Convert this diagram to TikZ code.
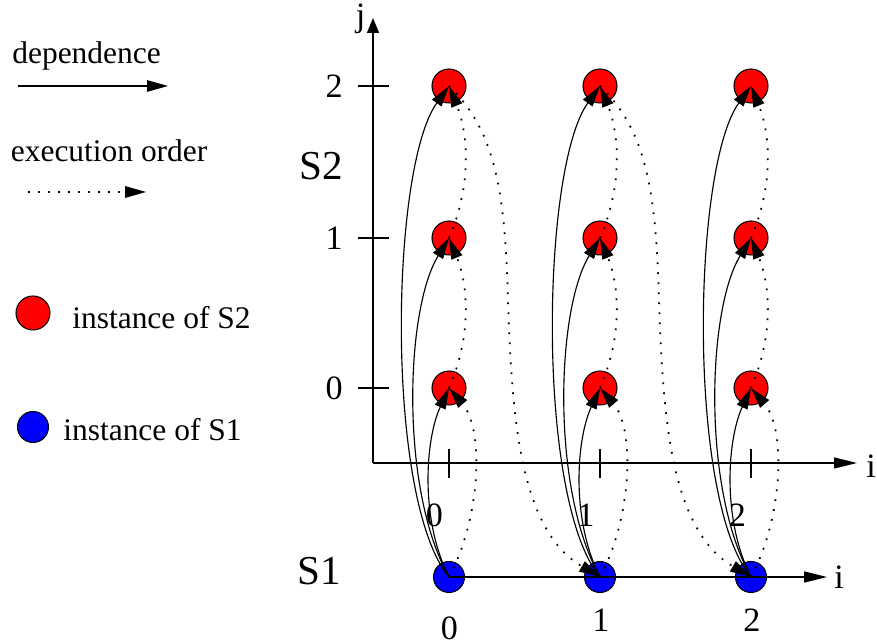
\documentclass[tikz,border=0pt]{standalone}
\usepackage{fontspec}
\setmainfont{Liberation Serif}
\usetikzlibrary{arrows.meta, calc}
\definecolor{stwoc}{HTML}{FF0000}
\definecolor{sonec}{HTML}{0000FF}
\tikzset{
  stwo/.style={circle, draw=black, fill=stwoc, line width=0.6pt, minimum size=0.68cm, inner sep=0pt},
  sone/.style={circle, draw=black, fill=sonec, line width=0.6pt, minimum size=0.62cm, inner sep=0pt},
  axisline/.style={line width=0.75pt},
  tickmark/.style={line width=0.6pt},
  txt/.style={font=\fontsize{17.9}{20}\selectfont, inner sep=0pt},
  numlbl/.style={font=\fontsize{19.4}{22}\selectfont, inner sep=0pt},
  stm/.style={font=\fontsize{23.4}{26}\selectfont, inner sep=0pt},
  dep/.style={-{Triangle[length=4.2mm, width=2.3mm]}, line width=0.65pt},
  ord/.style={-{Triangle[length=4.2mm, width=2.3mm]}, line width=1pt, dash pattern=on 1pt off 4.7pt},
  ihead/.style={-{Triangle[length=4.6mm, width=2.2mm]}},
  jhead/.style={-{Triangle[length=3mm, width=2.4mm]}},
}

\begin{document}
\begin{tikzpicture}[x=1cm, y=1cm]
\useasboundingbox (0,0) rectangle (17.54,12.88);

% legend
\node[txt, anchor=base west] (deplbl) at (0.24,11.61) {dependence};
\coordinate (dep0) at (0.36,11.16);
\coordinate (dep1) at (3.36,11.16);
\draw[dep] (dep0) -- (dep1);
\node[txt, anchor=base west] (ordlbl) at (0.21,9.65) {execution order};
\coordinate (ord0) at (0.56,9.04);
\coordinate (ord1) at (2.92,9.04);
\draw[ord] (ord0) -- (ord1);
\node[stwo] (keytwo) at (0.66,6.62) {};
\node[txt, anchor=base west] (keytwolbl) at (1.44,6.31) {instance of S2};
\node[sone] (keyone) at (0.66,4.34) {};
\node[txt, anchor=base west] (keyonelbl) at (1.26,4.06) {instance of S1};

% the (i,j) space of S2
\coordinate (org) at (7.46,3.62);
\coordinate (jend) at (7.46,12.52);
\coordinate (iend) at (17.14,3.62);
\draw[axisline, jhead] (org) -- (jend);
\draw[axisline, ihead] (org) -- (iend);
\node[numlbl] (jlbl) at (7.21,12.5) {j};
\node[numlbl, anchor=west] (ilbl) at (17.32,3.56) {i};
\foreach \j/\y in {0/5.12,1/8.12,2/11.16} {
  \draw[tickmark] (7.16,\y) -- (7.78,\y);
  \node[numlbl, anchor=east] at (6.86,\y) {\j};
}
\foreach \i/\x/\lx in {0/8.98/8.69,1/12.0/11.72,2/15.02/14.75} {
  \draw[tickmark] (\x,3.9) -- (\x,3.32);
  \node[numlbl] at (\lx,2.58) {\i};
}
\node[stm] (stwolbl) at (6.42,9.56) {S2};
\node[stm] (sonelbl) at (6.38,1.45) {S1};

% instances
\foreach \i/\x in {0/8.98,1/12.0,2/15.02} {
  \node[sone] (s\i) at (\x,1.34) {};
  \foreach \j/\y in {0/5.12,1/8.12,2/11.16}
    \node[stwo] (t\i\j) at (\x,\y) {};
}

% the i line of S1
\coordinate (lend) at (16.54,1.34);
\draw[axisline, ihead] (s0.center) -- (lend);
\node[numlbl] (lilbl) at (16.78,1.34) {i};
\node[numlbl] at (8.99,0.32) {0};
\node[numlbl] at (12.02,0.48) {1};
\node[numlbl] at (15.04,0.48) {2};

% dependences and order inside a column
\foreach \i in {0,1,2} {
  \draw[dep] (s\i.center) .. controls +(-1.28,1.54) and +(-1.18,-1.64) .. (t\i2.center);
  \draw[dep] (s\i.center) .. controls +(-0.98,1.74) and +(-0.88,-1.44) .. (t\i1.center);
  \draw[dep] (s\i.center) .. controls +(-0.58,1.14) and +(-0.48,-1.04) .. (t\i0.center);
  \draw[ord] (s\i.center) .. controls +(0.62,1.14) and +(0.72,-0.84) .. (t\i0.center);
  \draw[ord] (t\i0.center) .. controls +(0.42,0.96) and +(0.42,-1.04) .. (t\i1.center);
  \draw[ord] (t\i1.center) .. controls +(0.42,0.96) and +(0.42,-1.04) .. (t\i2.center);
}
% order from one column to the next
\foreach \i/\k in {0/1,1/2} {
  \coordinate (m\i) at ($(t\i2)+(1.18,-4.28)$);
  \draw[ord] (t\i2.center) .. controls +(0.92,-0.88) and +(-0.06,2.2) .. (m\i)
    .. controls +(0.08,-2.4) and +(-1.6,0.94) .. (s\k.center);
}
\end{tikzpicture}
\end{document}
